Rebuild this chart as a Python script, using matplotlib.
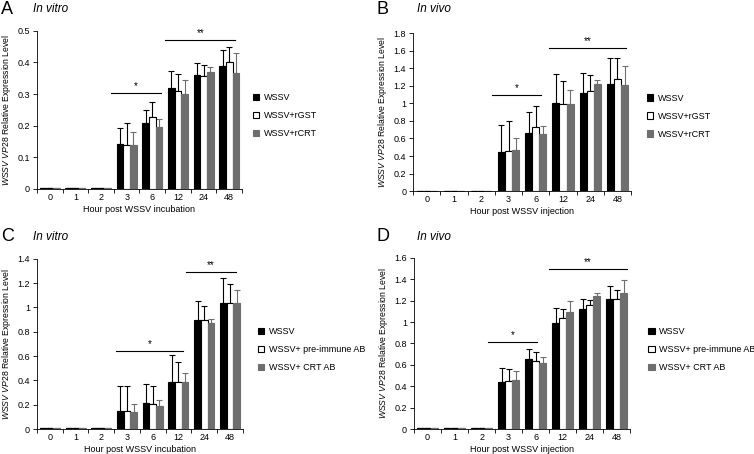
import matplotlib
matplotlib.use("Agg")
import matplotlib.pyplot as plt
import numpy as np
from matplotlib.ticker import FuncFormatter

plt.rcParams["font.family"] = ["Liberation Sans", "DejaVu Sans"]
plt.rcParams["mathtext.fontset"] = "custom"
plt.rcParams["mathtext.it"] = "Liberation Sans:italic"
plt.rcParams["mathtext.rm"] = "Liberation Sans"

hours = ["0", "1", "2", "3", "6", "12", "24", "48"]

# panel A - in vitro, recombinant proteins
a_wssv = [0.002, 0.002, 0.002, 0.141, 0.209, 0.318, 0.359, 0.389]
a_wssv_err = [0, 0, 0, 0.052, 0.040, 0.055, 0.040, 0.051]
a_gst = [0.002, 0.002, 0.002, 0.140, 0.226, 0.311, 0.358, 0.400]
a_gst_err = [0, 0, 0, 0.070, 0.050, 0.051, 0.035, 0.050]
a_crt = [0.002, 0.002, 0.002, 0.140, 0.197, 0.299, 0.370, 0.368]
a_crt_err = [0, 0, 0, 0.039, 0.024, 0.045, 0.015, 0.062]

# panel B - in vivo, recombinant proteins
b_wssv = [0.006, 0.006, 0.006, 0.45, 0.66, 1.00, 1.12, 1.22]
b_wssv_err = [0, 0, 0, 0.30, 0.24, 0.33, 0.23, 0.30]
b_gst = [0.006, 0.006, 0.006, 0.455, 0.73, 0.995, 1.145, 1.28]
b_gst_err = [0, 0, 0, 0.345, 0.24, 0.265, 0.175, 0.24]
b_crt = [0.006, 0.006, 0.006, 0.465, 0.65, 0.99, 1.22, 1.21]
b_crt_err = [0, 0, 0, 0.135, 0.09, 0.16, 0.05, 0.22]

# panel C - in vitro, antibodies
c_wssv = [0.005, 0.005, 0.005, 0.145, 0.21, 0.385, 0.895, 1.035]
c_wssv_err = [0, 0, 0, 0.205, 0.16, 0.225, 0.16, 0.21]
c_pre = [0.005, 0.005, 0.005, 0.145, 0.205, 0.385, 0.895, 1.035]
c_pre_err = [0, 0, 0, 0.21, 0.15, 0.165, 0.115, 0.16]
c_crt = [0.005, 0.005, 0.005, 0.14, 0.19, 0.385, 0.875, 1.035]
c_crt_err = [0, 0, 0, 0.065, 0.045, 0.075, 0.03, 0.105]

# panel D - in vivo, antibodies
d_wssv = [0.006, 0.006, 0.006, 0.44, 0.65, 0.995, 1.12, 1.215]
d_wssv_err = [0, 0, 0, 0.13, 0.10, 0.135, 0.10, 0.125]
d_pre = [0.006, 0.006, 0.006, 0.45, 0.64, 1.035, 1.155, 1.215]
d_pre_err = [0, 0, 0, 0.11, 0.08, 0.085, 0.05, 0.08]
d_crt = [0.006, 0.006, 0.006, 0.46, 0.62, 1.095, 1.245, 1.27]
d_crt_err = [0, 0, 0, 0.08, 0.05, 0.10, 0.03, 0.12]

labels_r = ["WSSV", "WSSV+rGST", "WSSV+rCRT"]
labels_ab = ["WSSV", "WSSV+ pre-immune AB", "WSSV+ CRT AB"]

GRAY = "#6e6e6e"
ylabel = r"$\it{WSSV\ VP28}$ Relative Expression Level"


def draw_panel(ax, series, errs, labels, ymax, ystep, xlabel, sig, leg_pos):
    x = np.arange(len(hours))
    w = 0.26
    styles = [("black", "black", "black"), ("white", "black", "black"), (GRAY, GRAY, GRAY)]
    for i, (vals, err, lab) in enumerate(zip(series, errs, labels)):
        fc, ec, erc = styles[i]
        ax.bar(x + (i - 1) * w, vals, w, color=fc, edgecolor=ec, linewidth=0.8,
               label=lab, zorder=2)
        ax.errorbar(x + (i - 1) * w, vals, yerr=[np.zeros(len(err)), err], fmt="none",
                    ecolor=erc, elinewidth=0.8, capsize=2, capthick=0.8, zorder=1)
    ax.set_xlim(-0.5, len(hours) - 0.5)
    ax.set_ylim(0, ymax)
    ax.set_yticks(np.arange(0, ymax + ystep / 2, ystep))
    ax.yaxis.set_major_formatter(FuncFormatter(lambda v, p: f"{v:g}"))
    ax.set_xticks(x)
    ax.set_xticklabels(hours)
    ax.set_xticks(np.arange(-0.5, len(hours), 1), minor=True)
    ax.tick_params(axis="x", which="major", length=0, labelsize=6.5, pad=3)
    ax.tick_params(axis="x", which="minor", length=3, width=0.6)
    ax.tick_params(axis="y", length=3, width=0.6, labelsize=6.5, pad=2)
    for s in ["top", "right"]:
        ax.spines[s].set_visible(False)
    for s in ["left", "bottom"]:
        ax.spines[s].set_linewidth(0.6)
    ax.set_xlabel(xlabel, fontsize=6.5, labelpad=2)
    ax.set_ylabel(ylabel, fontsize=6.2, labelpad=3)
    for x0, x1, yv, txt in sig:
        ax.plot([x0, x1], [yv, yv], color="black", lw=0.8, clip_on=False)
        ax.text((x0 + x1) / 2, yv + ymax * 0.01, txt, ha="center", va="bottom", fontsize=7)
    ax.legend(loc="center left", bbox_to_anchor=leg_pos, frameon=False, fontsize=6.5,
              handlelength=0.7, handleheight=0.7, handletextpad=0.5, labelspacing=1.0,
              borderpad=0, borderaxespad=0)


fig = plt.figure(figsize=(7.54, 4.54), dpi=100)
axA = fig.add_axes([0.049, 0.584, 0.272, 0.348])
axB = fig.add_axes([0.548, 0.579, 0.289, 0.348])
axC = fig.add_axes([0.049, 0.055, 0.273, 0.375])
axD = fig.add_axes([0.549, 0.055, 0.287, 0.377])

draw_panel(axA, [a_wssv, a_gst, a_crt], [a_wssv_err, a_gst_err, a_crt_err], labels_r,
           0.5, 0.1, "Hour post WSSV incubation",
           [(2.37, 4.32, 0.304, "*"), (4.51, 7.24, 0.471, "**")], (1.054, 0.462))
draw_panel(axB, [b_wssv, b_gst, b_crt], [b_wssv_err, b_gst_err, b_crt_err], labels_r,
           1.8, 0.2, "Hour post WSSV injection",
           [(2.38, 4.21, 1.094, "*"), (4.5, 7.33, 1.63, "**")], (1.073, 0.475))
draw_panel(axC, [c_wssv, c_pre, c_crt], [c_wssv_err, c_pre_err, c_crt_err], labels_ab,
           1.4, 0.2, "Hour post WSSV incubation",
           [(2.59, 5.18, 0.642, "*"), (5.3, 7.23, 1.293, "**")], (1.073, 0.465))
draw_panel(axD, [d_wssv, d_pre, d_crt], [d_wssv_err, d_pre_err, d_crt_err], labels_ab,
           1.6, 0.2, "Hour post WSSV injection",
           [(2.25, 4.05, 0.814, "*"), (4.5, 7.37, 1.497, "**")], (1.083, 0.462))

for lx, tx, y, letter, title in [(0.001, 0.044, 0.98, "A", "In vitro"),
                                 (0.500, 0.553, 0.98, "B", "In vivo"),
                                 (0.001, 0.044, 0.478, "C", "In vitro"),
                                 (0.500, 0.553, 0.478, "D", "In vivo")]:
    fig.text(lx, y, letter, fontsize=13, va="center", ha="left")
    fig.text(tx, y, title, fontsize=8.5, style="italic", va="center", ha="left")

fig.savefig("out.png", dpi=100)
